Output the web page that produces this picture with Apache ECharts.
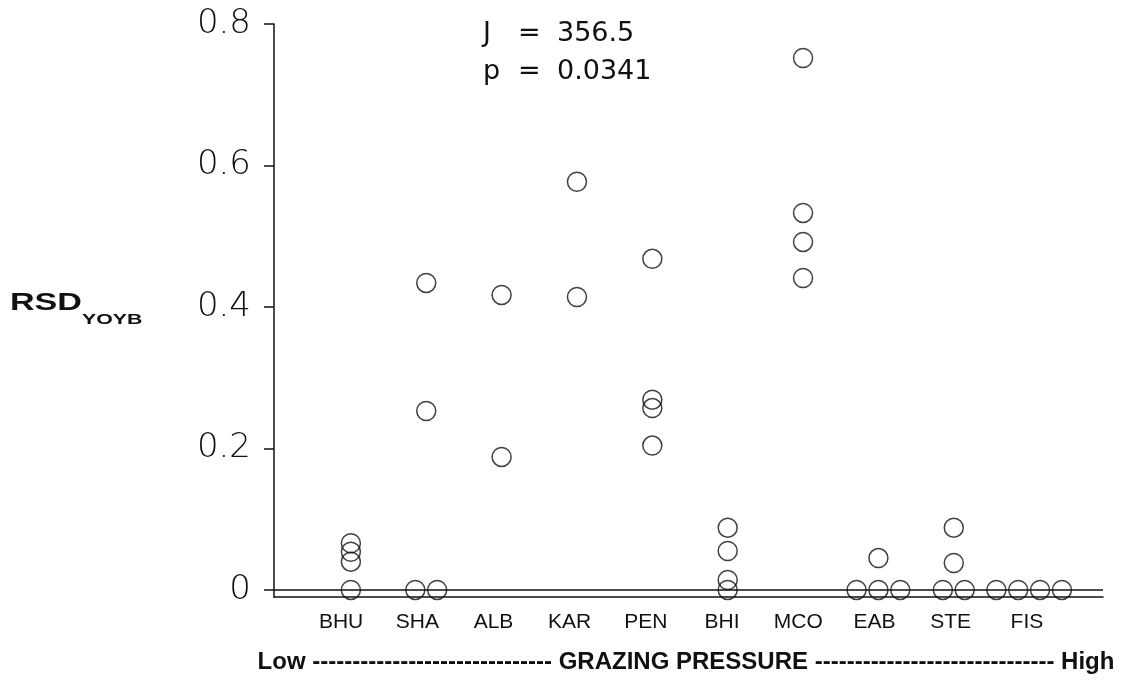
<!DOCTYPE html>
<html>
<head>
<meta charset="utf-8">
<script src="https://cdn.jsdelivr.net/npm/echarts@6/dist/echarts.min.js"></script>
<style>
  html, body { margin: 0; padding: 0; background: #fff; }
  #chart { width: 1129px; height: 683px; }
</style>
</head>
<body>
<div id="chart"></div>
<script>
// Sites, ordered from low to high grazing pressure
const categories = ['BHU', 'SHA', 'ALB', 'KAR', 'PEN', 'BHI', 'MCO', 'EAB', 'STE', 'FIS'];

// RSD (YOYB) values recorded at each site
const bhu = [0.066, 0.054, 0.040, 0];
const sha = [0.434, 0.253, 0, 0];
const alb = [0.417, 0.188];
const kar = [0.577, 0.414];
const pen = [0.468, 0.269, 0.257, 0.204];
const bhi = [0.088, 0.055, 0.014, 0];
const mco = [0.752, 0.533, 0.492, 0.441];
const eab = [0.045, 0, 0, 0];
const ste = [0.088, 0.038, 0, 0];
const fis = [0, 0, 0, 0];
const siteValues = [bhu, sha, alb, kar, pen, bhi, mco, eab, ste, fis];

const yTicks = [0, 0.2, 0.4, 0.6, 0.8];
const statLines = [['J', '356.5'], ['p', '0.0341']];
const yTitle = 'RSD';
const yTitleSub = 'YOYB';

// Spread tied values side by side so every circle stays visible
const TIE_STEP = 0.29;
const points = [];
siteValues.forEach((vals, ci) => {
  const counts = {};
  vals.forEach(v => { counts[v] = (counts[v] || 0) + 1; });
  const seen = {};
  vals.forEach(v => {
    const n = counts[v];
    const k = seen[v] || 0;
    seen[v] = k + 1;
    points.push([ci + (k - (n - 1) / 2) * TIE_STEP, v]);
  });
});

const chart = echarts.init(document.getElementById('chart'), null, { renderer: 'canvas' });

const dashes = '-'.repeat(30);
const statText = statLines.map(([k, v]) => `{k|${k}}{e|=}{v|${v}}`).join('\n');
const statFont = { fontFamily: 'DejaVu Sans', fontSize: 27, fill: '#111', lineHeight: 38 };

chart.setOption({
  backgroundColor: '#fff',
  animation: false,
  grid: [
    { left: 274, right: 26, top: 24, bottom: 86 },
    { left: 303, width: 762, top: 24, bottom: 86 }
  ],
  xAxis: [
    {
      type: 'value', gridIndex: 0, min: -1.02, max: 9.98,
      axisLine: { show: true, onZero: false, lineStyle: { color: '#111', width: 1.5 } },
      axisTick: { show: false }, axisLabel: { show: false }, splitLine: { show: false }
    },
    {
      type: 'category', gridIndex: 1, data: categories, boundaryGap: true,
      axisLine: { show: false }, axisTick: { show: false }, splitLine: { show: false },
      axisLabel: {
        interval: 0, margin: 15, color: '#111',
        fontFamily: 'Liberation Sans', fontSize: 21
      }
    }
  ],
  yAxis: [
    {
      type: 'value', gridIndex: 0, min: -0.01, max: 0.8,
      axisLine: { show: true, onZero: false, lineStyle: { color: '#111', width: 1.5 } },
      axisTick: { show: true, length: 10, customValues: yTicks, lineStyle: { color: '#111', width: 1.5 } },
      axisLabel: {
        customValues: yTicks, margin: 23, color: '#111', padding: [6, 0, 0, 0],
        fontFamily: 'DejaVu Sans', fontWeight: 200, fontSize: 34,
        formatter: v => String(v)
      },
      splitLine: { show: false }
    },
    { type: 'value', gridIndex: 1, min: 0, max: 1, show: false }
  ],
  series: [
    {
      type: 'scatter', xAxisIndex: 0, yAxisIndex: 0,
      data: points,
      symbol: 'circle', symbolSize: 19,
      itemStyle: { color: 'rgba(0,0,0,0)', borderColor: '#111', borderWidth: 1.5 },
      markLine: {
        silent: true, symbol: 'none', label: { show: false },
        lineStyle: { color: '#111', width: 1.5, type: 'solid' },
        data: [{ yAxis: 0 }]
      },
      z: 3
    }
  ],
  graphic: [
    {
      // y-axis title with subscript, drawn in a wide face
      type: 'text', x: 10, y: 291, scaleX: 1.42,
      style: {
        text: `{a|${yTitle}}{b|${yTitleSub}}`,
        rich: {
          a: { fontFamily: 'Liberation Sans', fontWeight: 'bold', fontSize: 24, lineHeight: 24, verticalAlign: 'top', fill: '#111' },
          b: { fontFamily: 'Liberation Sans', fontWeight: 'bold', fontSize: 15, lineHeight: 15, verticalAlign: 'top', padding: [21, 0, 0, 0], fill: '#111' }
        }
      }
    },
    {
      type: 'text', left: 483, top: 20,
      style: {
        text: statText,
        rich: {
          k: Object.assign({ width: 35 }, statFont),
          e: Object.assign({ width: 39 }, statFont),
          v: Object.assign({}, statFont)
        }
      }
    },
    {
      type: 'text', x: 686, y: 662,
      style: {
        text: `Low ${dashes} GRAZING PRESSURE ${dashes} High`,
        fontFamily: 'Liberation Sans', fontWeight: 'bold', fontSize: 24, fill: '#111',
        textAlign: 'center', textVerticalAlign: 'middle'
      }
    }
  ]
});
</script>
</body>
</html>
